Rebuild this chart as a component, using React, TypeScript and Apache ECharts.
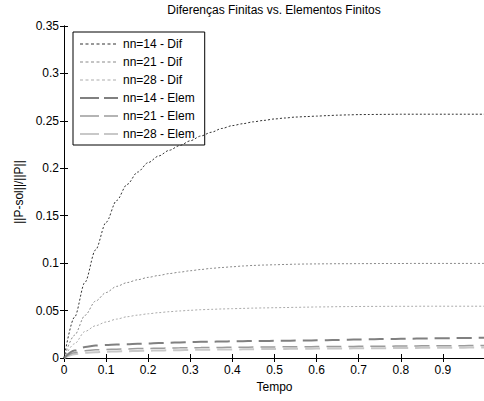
import React, { useEffect, useRef } from "react";
import * as echarts from "echarts";

const tempo = [
  0, 0.025, 0.05, 0.075, 0.1, 0.125, 0.15, 0.175, 0.2, 0.225,
  0.25, 0.275, 0.3, 0.325, 0.35, 0.375, 0.4, 0.425, 0.45, 0.475,
  0.5, 0.525, 0.55, 0.575, 0.6, 0.625, 0.65, 0.675, 0.7, 0.725,
  0.75, 0.775, 0.8, 0.825, 0.85, 0.875, 0.9, 0.925, 0.95, 0.975, 1.0,
];

const dif14 = [
  0, 0.043, 0.08, 0.114, 0.143, 0.166, 0.183, 0.196, 0.206, 0.213,
  0.219, 0.224, 0.229, 0.234, 0.238, 0.242, 0.245, 0.247, 0.249, 0.2505,
  0.252, 0.253, 0.254, 0.2545, 0.255, 0.2555, 0.256, 0.2563, 0.2566, 0.2567,
  0.2568, 0.2569, 0.257, 0.257, 0.257, 0.257, 0.257, 0.257, 0.257, 0.257, 0.257,
];
const dif21 = [
  0, 0.024, 0.045, 0.06, 0.069, 0.0755, 0.0795, 0.0825, 0.085, 0.087,
  0.089, 0.0905, 0.092, 0.0933, 0.0945, 0.0954, 0.0962, 0.097, 0.0976, 0.098,
  0.0983, 0.0986, 0.0989, 0.0991, 0.0992, 0.0993, 0.0994, 0.0994, 0.0995, 0.0995,
  0.0996, 0.0996, 0.0996, 0.0997, 0.0997, 0.0997, 0.0997, 0.0997, 0.0997, 0.0997, 0.0997,
];
const dif28 = [
  0, 0.015, 0.028, 0.034, 0.038, 0.041, 0.0435, 0.0452, 0.0466, 0.0478,
  0.0488, 0.0496, 0.0503, 0.0509, 0.0513, 0.0517, 0.052, 0.0523, 0.0526, 0.0528,
  0.053, 0.0532, 0.0534, 0.0536, 0.0538, 0.0539, 0.0541, 0.0542, 0.0543, 0.0544,
  0.0544, 0.0545, 0.0545, 0.0545, 0.0546, 0.0546, 0.0546, 0.0546, 0.0546, 0.0546, 0.0546,
];
const elem14 = [
  0, 0.0078, 0.0115, 0.0131, 0.0138, 0.0142, 0.0146, 0.015, 0.0154, 0.0158,
  0.0161, 0.0164, 0.0167, 0.017, 0.0172, 0.0174, 0.0176, 0.0177, 0.0179, 0.018,
  0.0181, 0.0182, 0.0184, 0.0185, 0.0186, 0.0188, 0.019, 0.0193, 0.0195, 0.0197,
  0.0199, 0.0201, 0.0202, 0.0204, 0.0205, 0.0207, 0.0208, 0.021, 0.0211, 0.0212, 0.0213,
];
const elem21 = [
  0, 0.0055, 0.0077, 0.0086, 0.009, 0.0093, 0.0096, 0.0099, 0.0101, 0.0103,
  0.0105, 0.0107, 0.0108, 0.011, 0.0111, 0.0112, 0.0113, 0.0114, 0.0115, 0.0116,
  0.0117, 0.0118, 0.0119, 0.0119, 0.012, 0.0121, 0.0122, 0.0122, 0.0123, 0.0124,
  0.0125, 0.0125, 0.0126, 0.0127, 0.0128, 0.0128, 0.0129, 0.013, 0.013, 0.0131, 0.0131,
];
const elem28 = [
  0, 0.004, 0.0055, 0.0061, 0.0066, 0.0069, 0.0072, 0.0075, 0.0077, 0.0079,
  0.0081, 0.0083, 0.0085, 0.0087, 0.0088, 0.0089, 0.009, 0.0091, 0.0093, 0.0094,
  0.0095, 0.0096, 0.0097, 0.0098, 0.0099, 0.01, 0.0101, 0.0101, 0.0102, 0.0103,
  0.0104, 0.0104, 0.0105, 0.0106, 0.0107, 0.0107, 0.0108, 0.0109, 0.0109, 0.011, 0.011,
];

const seriesNames = ["nn=14 - Dif", "nn=21 - Dif", "nn=28 - Dif", "nn=14 - Elem", "nn=21 - Elem", "nn=28 - Elem"];
const seriesValues = [dif14, dif21, dif28, elem14, elem21, elem28];
const seriesColors = ["#333333", "#8a8a8a", "#ababab", "#808080", "#9c9c9c", "#c8c8c8"];
const seriesWidths = [1, 1, 1, 2, 1.5, 2];
const seriesDash = [[2, 2], [2, 2], [2, 2], [15, 7], [15, 7], [15, 7]];

const FONT = "'Liberation Sans', Arial, sans-serif";

// legend sample icons (38 x 14 box) drawn as dashes
const dotIcon =
  "path://M0 0M38 14" +
  [0, 5.5, 11, 16.5, 22, 27.5, 33].map((x) => `M${x} 6.5h3v1h-3z`).join("");
const dashIcon = (h: number) =>
  `path://M0 0M38 14M0 ${7 - h / 2}h19v${h}h-19zM24 ${7 - h / 2}h14v${h}h-14z`;
const legendIcons = [dotIcon, dotIcon, dotIcon, dashIcon(2), dashIcon(1.5), dashIcon(2)];

export default function App() {
  const ref = useRef<HTMLDivElement>(null);
  useEffect(() => {
    if (!ref.current) return;
    const chart = echarts.init(ref.current, undefined, { renderer: "svg" });
    const series = seriesNames.map((name, i) => ({
      name,
      type: "line",
      xAxisIndex: 0,
      yAxisIndex: 0,
      symbol: "none",
      smooth: 0.3,
      smoothMonotone: "x",
      data: tempo.map((t, j) => [t, seriesValues[i][j]]),
      lineStyle: { color: seriesColors[i], width: seriesWidths[i], type: seriesDash[i] },
      itemStyle: { color: seriesColors[i], borderWidth: 0 },
      z: 10 - i,
    }));
    const axisCommon = {
      type: "value",
      axisLine: { show: true, lineStyle: { color: "#000", width: 1 } },
      axisTick: { show: true, inside: true, length: 4, lineStyle: { color: "#000" } },
      splitLine: { show: false },
    };
    chart.setOption({
      animation: false,
      backgroundColor: "#ffffff",
      textStyle: { fontFamily: FONT },
      title: {
        text: "Diferenças Finitas vs. Elementos Finitos",
        left: 274,
        top: 4,
        textAlign: "center",
        padding: 0,
        textStyle: { fontFamily: FONT, fontSize: 12, fontWeight: "normal", color: "#000" },
      },
      legend: {
        orient: "vertical",
        left: 73,
        top: 32,
        itemWidth: 38,
        itemHeight: 14,
        itemGap: 4,
        padding: [5, 10, 4, 7],
        borderColor: "#000",
        borderWidth: 1,
        backgroundColor: "#fff",
        itemStyle: { borderWidth: 0 },
        data: seriesNames.map((name, i) => ({ name, icon: legendIcons[i] })),
        textStyle: { fontFamily: FONT, fontSize: 12, color: "#000" },
      },
      grid: { left: 64, right: 1, top: 26, bottom: 43, containLabel: false },
      xAxis: [
        {
          ...axisCommon,
          position: "bottom",
          min: 0,
          max: 1,
          interval: 0.1,
          name: "Tempo",
          nameLocation: "middle",
          nameGap: 23,
          nameTextStyle: { fontFamily: FONT, fontSize: 12, color: "#000" },
          axisLabel: {
            color: "#000",
            fontFamily: FONT,
            fontSize: 12,
            margin: 6,
            showMaxLabel: false,
            formatter: (v: number) => (v >= 0.999 ? "" : String(+v.toFixed(2))),
          },
        },
        {
          ...axisCommon,
          position: "top",
          min: 0,
          max: 1,
          interval: 0.1,
          axisLabel: { show: false },
        },
      ],
      yAxis: [
        {
          ...axisCommon,
          position: "left",
          min: 0,
          max: 0.35,
          interval: 0.05,
          name: "||P-sol||/||P||",
          nameLocation: "middle",
          nameGap: 35,
          nameTextStyle: { fontFamily: FONT, fontSize: 12, color: "#000" },
          axisLabel: {
            color: "#000",
            fontFamily: FONT,
            fontSize: 12,
            margin: 5,
            formatter: (v: number) => String(+v.toFixed(2)),
          },
        },
        {
          ...axisCommon,
          position: "right",
          min: 0,
          max: 0.35,
          interval: 0.05,
          axisLabel: { show: false },
        },
      ],
      series,
    });
    return () => chart.dispose();
  }, []);
  return (
    <div style={{ position: "absolute", left: 0, top: 0, width: 484, height: 401, overflow: "hidden", background: "#fff" }}>
      <div ref={ref} style={{ width: 486, height: 401 }} />
    </div>
  );
}
